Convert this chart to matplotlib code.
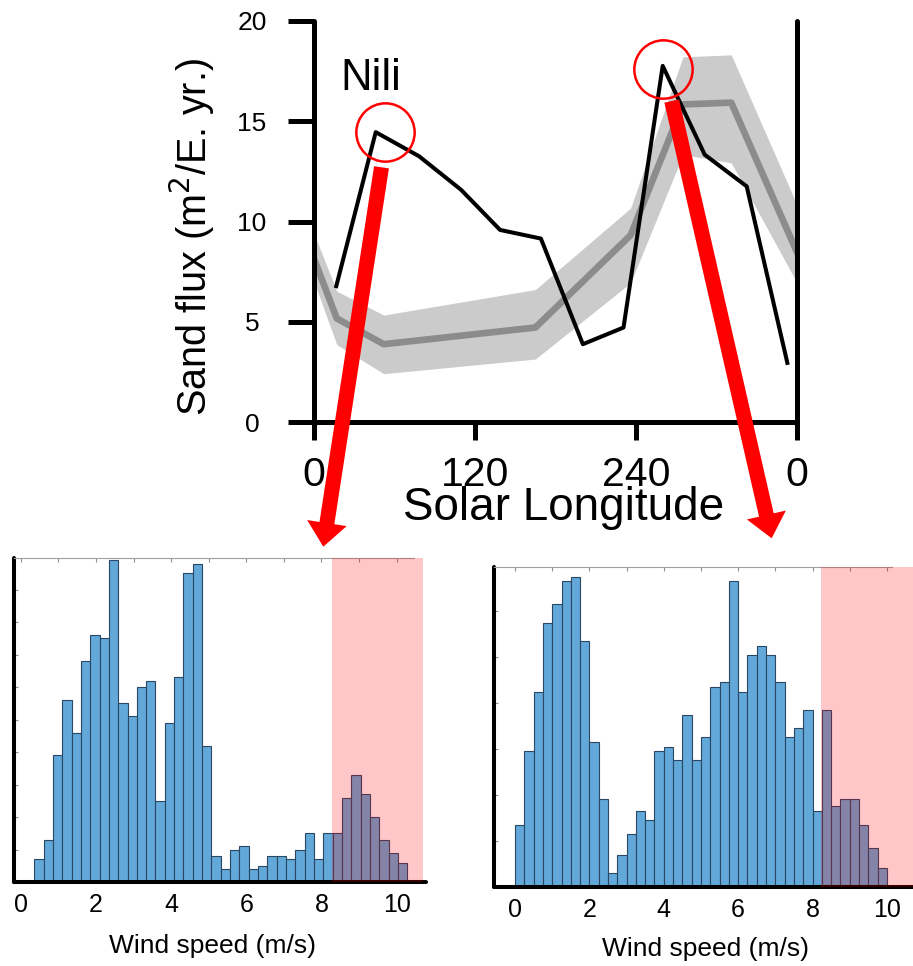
import numpy as np
import matplotlib
matplotlib.use('Agg')
import matplotlib.pyplot as plt

plt.rcParams['font.family'] = ['Liberation Sans', 'DejaVu Sans']

# Nili: observed sand flux vs solar longitude
ls_obs = [16.6, 46.0, 78.3, 109.6, 138.7, 169.1, 200.4, 230.7, 259.9, 291.2, 322.5, 352.8]
flux_obs = [6.78, 14.45, 13.25, 11.58, 9.58, 9.15, 3.89, 4.72, 17.75, 13.33, 11.75, 2.96]

# model mean and spread (gray)
ls_model = [0, 17, 52, 165, 236, 275, 311, 360]
flux_model = [8.14, 5.17, 3.89, 4.72, 9.32, 15.83, 15.92, 8.47]
flux_model_hi = [9.4, 6.53, 5.34, 6.61, 10.67, 18.2, 18.3, 10.83]
flux_model_lo = [7.0, 3.87, 2.42, 3.15, 6.95, 13.33, 12.92, 6.95]

ls_ticks = [0, 120, 240, 360]
ls_ticklabels = ['0', '120', '240', '0']
flux_ticks = [0, 5, 10, 15, 20]
peak_idx = [1, 8]

# wind speed histograms at the two peaks
edges_a = np.linspace(0.36, 10.28, 41)
counts_a = [7, 13, 39, 56, 46, 68, 76, 75, 99, 55, 51, 60, 62, 25, 49, 63, 95, 98, 42, 8,
            4, 10, 11, 4, 5, 8, 8, 7, 10, 15, 7, 15, 15, 26, 33, 27, 20, 13, 9, 6]
edges_b = np.linspace(0, 10, 41)
counts_b = [27, 59, 85, 115, 123, 133, 135, 107, 63, 38, 6, 14, 23, 33, 29, 59, 61, 55, 75, 55,
            65, 87, 89, 133, 85, 101, 105, 101, 89, 65, 69, 77, 33, 77, 35, 38, 38, 27, 17, 8]
thr_a = 8.28
thr_b = 8.23
speed_ticks = [0, 2, 4, 6, 8, 10]

fig = plt.figure(figsize=(9.13, 9.66), dpi=100)
W, H = 913, 966

# ---- top panel ----
ax = fig.add_axes([314 / W, 1 - 422.3 / H, 483 / W, 401.6 / H])
ax.fill_between(ls_model, flux_model_lo, flux_model_hi, color='#cbcbcb', lw=0, zorder=1)
ax.plot(ls_model, flux_model, color='#8c8c8c', lw=4.8, zorder=2)
ax.plot(ls_obs, flux_obs, color='black', lw=2.9, zorder=3)
ax.set_xlim(0, 360)
ax.set_ylim(0, 20)
ax.spines['top'].set_visible(False)
for s in ['left', 'right', 'bottom']:
    ax.spines[s].set_linewidth(3.6)
    ax.spines[s].set_capstyle('round')
ax.set_xticks(ls_ticks)
ax.set_xticklabels(ls_ticklabels)
ax.set_yticks(flux_ticks)
ax.tick_params(axis='x', length=13, width=3.6, direction='out', pad=11.5, labelsize=29.5)
ax.tick_params(axis='y', length=18.7, width=3.6, direction='out', pad=26, labelsize=19)
plt.setp(ax.get_yticklabels(), ha='center')
ax.set_xlabel('Solar Longitude', fontsize=33, va='baseline')
ax.xaxis.set_label_coords(0.5176, -(520 - 422.3) / 401.6)
ax.set_ylabel('Sand flux (m$^2$/E. yr.)', fontsize=28.5, va='center')
ax.yaxis.set_label_coords((192 - 314) / 483, (422.3 - 237) / 401.6)
ax.text(19.4, 16.55, 'Nili', fontsize=31.5, va='baseline', ha='left')

# red circles and arrows from the peaks
circ_dx = [7, 0]
circ_dy = [0, -0.15]
tail_dx = [4.3, 6.7]
tips = [(323.3, 546.7), (771.7, 538.3)]
for k, i in enumerate(peak_idx):
    px, py = ls_obs[i], flux_obs[i]
    ax.plot(px + circ_dx[k], py + circ_dy[k], 'o', ms=42, mfc='none', mec='red',
            mew=1.8, zorder=5, clip_on=False)
    ax.annotate('', xy=(tips[k][0] / W, 1 - tips[k][1] / H), xycoords='figure fraction',
                xytext=(px + tail_dx[k], py - 1.75), textcoords='data',
                arrowprops=dict(arrowstyle='simple,head_length=0.86,head_width=1.44,tail_width=0.54',
                                mutation_scale=20, color='red', lw=0,
                                shrinkA=0, shrinkB=0),
                zorder=6)


def wind_hist(ax, edges, counts, thr, xlim, ylim, ystep, pink_end, top_end, lab_x):
    ax.bar(edges[:-1], counts, width=np.diff(edges), align='edge', color='#62a8d8',
           edgecolor='#2a4763', linewidth=0.8, zorder=2)
    ax.axvspan(thr, pink_end, color='red', alpha=0.22, lw=0, zorder=3)
    ax.set_xlim(*xlim)
    ax.set_ylim(0, ylim)
    ax.spines['right'].set_visible(False)
    ax.spines['top'].set_linewidth(0.8)
    ax.spines['top'].set_color('#a0a0a0')
    ax.spines['top'].set_bounds(xlim[0], top_end)
    for s in ['left', 'bottom']:
        ax.spines[s].set_linewidth(2.9)
        ax.spines[s].set_capstyle('round')
    ax.set_xticks(speed_ticks)
    ax.set_xticks(np.arange(0, 11), minor=True)
    ax.set_yticks(np.arange(0, ylim, ystep))
    ax.tick_params(axis='x', which='both', direction='in', bottom=False, top=True,
                   length=3, width=0.8, color='#909090', labelsize=18, pad=8)
    ax.tick_params(axis='y', direction='in', length=3, width=0.8, color='#909090',
                   labelleft=False)
    ax.set_xlabel('Wind speed (m/s)', fontsize=19, va='baseline')
    ax.xaxis.set_label_coords(lab_x, -0.218)


ax_a = fig.add_axes([14 / W, 1 - 882 / H, 412 / W, 324 / H])
wind_hist(ax_a, edges_a, counts_a, thr_a, (-0.18, 10.78), 99.7, 10, 10.7, 10.45, 0.4818)

ax_b = fig.add_axes([494 / W, 1 - 886.7 / H, 419 / W, 320 / H])
wind_hist(ax_b, edges_b, counts_b, thr_b, (-0.565, 10.70), 139.4, 20, 10.70, 10.13, 0.5055)

fig.savefig('out.png', dpi=100)
